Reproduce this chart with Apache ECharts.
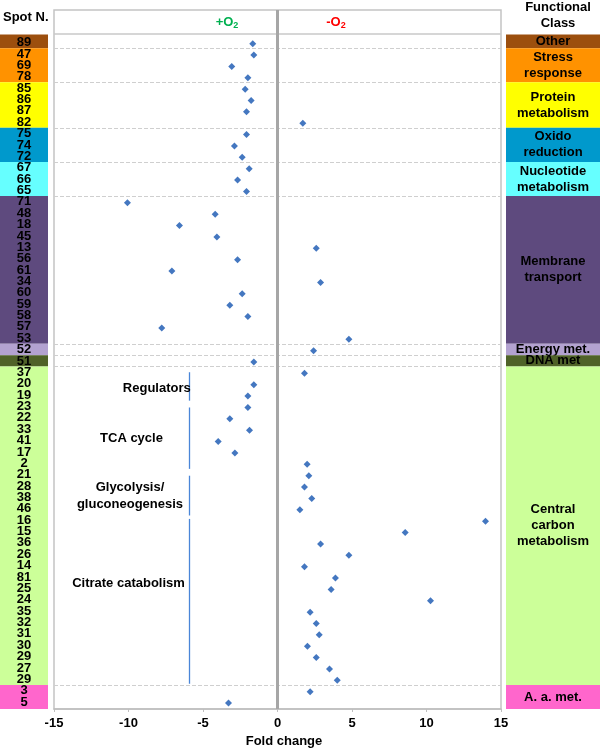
<!DOCTYPE html>
<html><head><meta charset="utf-8">
<script src="https://cdn.jsdelivr.net/npm/echarts@6/dist/echarts.min.js"></script>
<style>html,body{margin:0;padding:0;background:#fff}#c{width:600px;height:748px}</style>
</head><body><div id="c"></div>
<script>
// ---------------- DATA ----------------
const spots = ['89','47','69','78','85','86','87','82','75','74','72','67','66','65','71','48','18','45','13','56','61','34','60','59','58','57','53','52','51','37','20','19','23','22','33','41','17','2','21','28','38','46','16','15','36','26','14','81','25','24','35','32','31','30','29','27','29','3','5'];
const foldChange = [-1.66,-1.59,-3.07,-1.99,-2.17,-1.77,-2.08,1.70,-2.08,-2.89,-2.37,-1.90,-2.68,-2.08,-10.07,-4.18,-6.58,-4.07,2.60,-2.68,-7.09,2.89,-2.37,-3.20,-1.99,-7.77,4.79,2.42,-1.59,1.81,-1.59,-1.99,-1.99,-3.20,-1.88,-3.98,-2.86,1.99,2.10,1.81,2.30,1.50,13.96,8.57,2.89,4.79,1.81,3.89,3.60,10.27,2.19,2.60,2.80,2.01,2.60,3.49,4.01,2.19,-3.29];
const classNames = ['Other','Stress\nresponse','Protein\nmetabolism','Oxido\nreduction','Nucleotide\nmetabolism','Membrane\ntransport','Energy met.','DNA met','Central\ncarbon\nmetabolism','A. a. met.'];
const classFirstRow = [0,1,4,8,11,14,27,28,29,57];
const classLastRow  = [0,3,7,10,13,26,27,28,56,58];
const classColors = ['#9c4f0e','#ff9200','#ffff00','#0099cc','#66ffff','#5e4a7e','#b3a2d0','#4f6228','#ccff99','#ff66cc'];
const subgroupNames = ['Regulators','TCA cycle','Glycolysis/\ngluconeogenesis','Citrate catabolism'];
const subgroupLineFrom = [28.9, 32.0, 38.0, 41.8];
const subgroupLineTo   = [31.4, 37.4, 41.5, 56.3];
const subgroupLineX    = [-5.9, -5.9, -5.9, -5.9];
const subgroupLabelX   = [-8.1, -9.8, -9.9, -10.0];
const subgroupLabelY   = [30.3, 34.7, 39.75, 47.5];
const xMin = -15, xMax = 15, xStep = 5;

// ---------------- CHART ----------------
const FONT = "'Liberation Sans', Arial, Helvetica, sans-serif";
const Y_MIN = -2.96, Y_MAX = 58.52, HEADER_Y = -0.85;
const chart = echarts.init(document.getElementById('c'));
const nC = classNames.length;
const bounds = classNames.map((n,k)=>[k===0 ? -0.8 : classLastRow[k-1]+0.4, k===nC-1 ? Y_MAX : classLastRow[k]+0.4]);

const sepLines = classLastRow.slice(0, nC-1).map(r => ({yAxis: r+0.4, lineStyle:{type:'dashed', color:'#cfcfcf', width:1}}));
const blueLine = {color:'#4a86d8', width:1.3, type:'solid', opacity:1};
const subLines = subgroupNames.map((n,k)=>[{coord:[subgroupLineX[k], subgroupLineFrom[k]], lineStyle:blueLine},{coord:[subgroupLineX[k], subgroupLineTo[k]], lineStyle:blueLine}]);

function yCfg(gi){ return {type:'value', gridIndex:gi, inverse:true, min:Y_MIN, max:Y_MAX, show:false}; }

function blockRender(withText){
  return function(params, api){
    const k = api.value(3);
    const p0 = api.coord([0, api.value(1)]);
    const p1 = api.coord([1, api.value(2)]);
    const children = [{type:'rect', shape:{x:p0[0], y:p0[1], width:p1[0]-p0[0], height:p1[1]-p0[1]}, style:{fill:classColors[k]}}];
    if (withText) {
      children.push({type:'text', x:(p0[0]+p1[0])/2, y:(p0[1]+p1[1])/2, style:{text:classNames[k], fill:'#000', font:'bold 13px '+FONT, lineHeight:16, align:'center', verticalAlign:'middle'}});
    }
    return {type:'group', children};
  };
}

const option = {
  animation:false,
  backgroundColor:'#fff',
  grid:[
    {left:54, top:10, width:447, height:699, show:true, borderColor:'#c4c4c4', borderWidth:1.5, containLabel:false, outerBoundsMode:'none'},
    {left:0, top:10, width:48, height:699, containLabel:false, outerBoundsMode:'none'},
    {left:506, top:10, width:94, height:699, containLabel:false, outerBoundsMode:'none'}
  ],
  xAxis:[
    {type:'value', gridIndex:0, min:xMin, max:xMax, interval:xStep,
      axisLine:{show:true, onZero:false, lineStyle:{color:'#bfbfbf', width:1.5}},
      axisTick:{show:true, length:3, lineStyle:{color:'#bfbfbf'}},
      splitLine:{show:false},
      axisLabel:{margin:8, fontFamily:FONT, fontWeight:'bold', fontSize:13, color:'#000'},
      name:'Fold change', nameLocation:'middle', nameGap:25,
      nameTextStyle:{fontFamily:FONT, fontWeight:'bold', fontSize:13, color:'#000', padding:[0,0,0,13]}},
    {type:'value', gridIndex:1, min:0, max:1, show:false},
    {type:'value', gridIndex:2, min:0, max:1, show:false}
  ],
  yAxis:[yCfg(0), yCfg(1), yCfg(2)],
  series:[
    {type:'scatter', xAxisIndex:0, yAxisIndex:0, symbol:'diamond', symbolSize:7,
      itemStyle:{color:'#4477c0', opacity:1}, z:5,
      data: foldChange.map((v,i)=>[v,i]),
      markLine:{silent:true, symbol:['none','none'], label:{show:false}, animation:false,
        data:[
          ...sepLines,
          {yAxis:HEADER_Y, lineStyle:{type:'solid', color:'#c8c8c8', width:1.5}},
          {xAxis:0, lineStyle:{type:'solid', color:'#a6a6a6', width:3}},
          ...subLines
        ]}
    },
    {type:'custom', xAxisIndex:0, yAxisIndex:0, z:6,
      data: subgroupNames.map((n,k)=>[subgroupLabelX[k], subgroupLabelY[k], k]),
      renderItem:function(params, api){
        const p = api.coord([api.value(0), api.value(1)]);
        return {type:'text', x:p[0], y:p[1], style:{text:subgroupNames[api.value(2)], fill:'#000', font:'bold 13px '+FONT, lineHeight:17, align:'center', verticalAlign:'middle'}};
      }
    },
    {type:'custom', xAxisIndex:1, yAxisIndex:1,
      data: classNames.map((n,k)=>[0.5, bounds[k][0], bounds[k][1], k]),
      renderItem: blockRender(false)
    },
    {type:'custom', xAxisIndex:1, yAxisIndex:1, z:4,
      data: spots.map((s,i)=>[0.5, i, i]),
      renderItem:function(params, api){
        const p = api.coord([api.value(0), api.value(1)]);
        return {type:'text', x:p[0], y:p[1]-1, style:{text:spots[api.value(2)], fill:'#000', font:'bold 13px '+FONT, align:'center', verticalAlign:'middle'}};
      }
    },
    {type:'custom', xAxisIndex:2, yAxisIndex:2,
      data: classNames.map((n,k)=>[0.5, bounds[k][0], bounds[k][1], k]),
      renderItem: blockRender(true)
    }
  ],
  graphic:[
    {type:'text', left:3, top:11, style:{text:'Spot N.', fill:'#000', font:'bold 13px '+FONT}},
    {type:'text', x:558, y:15, style:{text:'Functional\nClass', fill:'#000', font:'bold 13px '+FONT, lineHeight:16, align:'center', verticalAlign:'middle'}},
    {type:'text', x:227, y:22, style:{text:'{a|+O}{b|2}', align:'center', verticalAlign:'middle',
      rich:{a:{fontFamily:FONT, fontWeight:'bold', fontSize:13, fill:'#00b050', verticalAlign:'bottom'}, b:{fontFamily:FONT, fontWeight:'bold', fontSize:9, fill:'#00b050', verticalAlign:'bottom', padding:[0,0,-2,0]}}}},
    {type:'text', x:336, y:22, style:{text:'{a|-O}{b|2}', align:'center', verticalAlign:'middle',
      rich:{a:{fontFamily:FONT, fontWeight:'bold', fontSize:13, fill:'#ff0000', verticalAlign:'bottom'}, b:{fontFamily:FONT, fontWeight:'bold', fontSize:9, fill:'#ff0000', verticalAlign:'bottom', padding:[0,0,-2,0]}}}}
  ]
};
chart.setOption(option);
</script>
</body></html>
